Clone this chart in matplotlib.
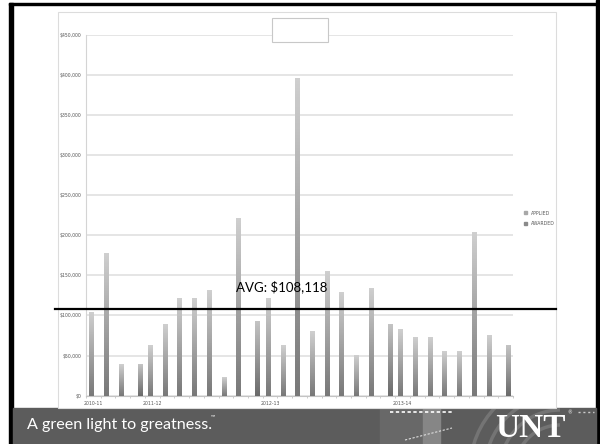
import numpy as np
import matplotlib.pyplot as plt
from matplotlib.patches import Rectangle, Patch, Arc
from matplotlib.lines import Line2D
from matplotlib.colors import LinearSegmentedColormap
from matplotlib.ticker import FuncFormatter

nan = np.nan

# one category per proposal, year label on the first one of each year
categories = ['2010-11', '', '', '', '2011-12', '', '', '', '', '', '', '',
              '2012-13', '', '', '', '', '', '', '', '', '2013-14',
              '', '', '', '', '', '', '']
applied = [104000, 177500, 39500, nan, 63500, 89500, 122000, 122000, 131500,
           23500, 221000, nan, 122000, 63000, 396000, 81000, 155500, 129500,
           50000, 133500, nan, 83000, 73000, 73000, 55500, 55500, 204000,
           75000, nan]
awarded = [nan, nan, nan, 39500, nan, nan, nan, nan, nan, nan, nan, 93000,
           nan, nan, nan, nan, nan, nan, nan, nan, 89500, nan, nan, nan, nan,
           nan, nan, nan, 63000]
series_names = ['APPLIED', 'AWARDED']
avg_value = 108118

W, H = 600, 444
fig = plt.figure(figsize=(6, 4.44), dpi=100)


def fx(px):
    return px / W


def fy(py):
    return 1 - py / H


# slide frame and footer banner
fig.patches.append(Rectangle((fx(9), 0), fx(3.5), fy(3), color='black', transform=fig.transFigure, zorder=0))
fig.patches.append(Rectangle((fx(9), fy(5.5)), fx(591), 2.5 / H, color='black', transform=fig.transFigure, zorder=0))
fig.patches.append(Rectangle((fx(596), 0), fx(4), 1, color='black', transform=fig.transFigure, zorder=0))
banner = Rectangle((fx(12.5), 0), fx(583.5), fy(408), color='#5c5c5c', transform=fig.transFigure, zorder=0)
fig.patches.append(banner)
fig.patches.append(Rectangle((fx(380), 0), fx(43), fy(408), color='#686868', transform=fig.transFigure, zorder=1))
fig.patches.append(Rectangle((fx(423), 0), fx(17), fy(408), color='#868686', transform=fig.transFigure, zorder=1))
for r in [45, 60, 75, 90]:
    arc = Arc((fx(560), fy(470)), 2 * r / W, 2 * r / H, theta1=90, theta2=180,
              color='#747474', lw=2.5, transform=fig.transFigure, zorder=1)
    fig.patches.append(arc)
    arc.set_clip_path(banner)
fig.lines.append(Line2D([fx(390), fx(452)], [fy(411.5), fy(411.5)], color='white', lw=1.2,
                        ls=(0, (2, 1.5)), transform=fig.transFigure, zorder=2))
fig.lines.append(Line2D([fx(405), fx(452)], [fy(440), fy(428)], color='#dddddd', lw=0.8,
                        ls=(0, (2, 1.5)), transform=fig.transFigure, zorder=2))
fig.lines.append(Line2D([fx(578), fx(594)], [fy(412), fy(412)], color='#cccccc', lw=1,
                        ls=(0, (1.5, 2)), transform=fig.transFigure, zorder=2))

# chart area and empty title box
fig.patches.append(Rectangle((fx(58), fy(408)), fx(498), 396 / H, facecolor='white',
                             edgecolor='#dcdcdc', lw=0.8, transform=fig.transFigure, zorder=1))
fig.patches.append(Rectangle((fx(272), fy(42.3)), fx(55.5), 24 / H, facecolor='white',
                             edgecolor='#c8c8c8', lw=0.8, transform=fig.transFigure, zorder=5))

ax = fig.add_axes([fx(86), fy(395.7), fx(427), 361 / H], zorder=3)
ax.patch.set_alpha(0)

x = np.arange(len(categories))
bw = 0.29
b1 = ax.bar(x - bw / 2, applied, bw, color='#a8a8a8', zorder=3, label=series_names[0])
b2 = ax.bar(x + bw / 2, awarded, bw, color='#999999', zorder=3, label=series_names[1])

cm1 = LinearSegmentedColormap.from_list('g1', ['#787878', '#cfcfcf'])
cm2 = LinearSegmentedColormap.from_list('g2', ['#6a6a6a', '#c4c4c4'])
grad = np.linspace(0, 1, 100).reshape(-1, 1)
for bars, cm in [(b1, cm1), (b2, cm2)]:
    for p in bars:
        h = p.get_height()
        if np.isnan(h):
            continue
        ax.imshow(grad, extent=(p.get_x(), p.get_x() + p.get_width(), 0, h), origin='lower',
                  aspect='auto', cmap=cm, zorder=4)

ax.set_xlim(-0.5, len(categories) - 0.5)
ax.set_ylim(0, 450000)
ax.set_yticks(np.arange(0, 450001, 50000))
ax.yaxis.set_major_formatter(FuncFormatter(lambda v, p: '${:,.0f}'.format(v)))
ax.set_xticks(x)
ax.set_xticklabels(categories)
ax.set_xticks(np.arange(-0.5, len(categories)), minor=True)
ax.grid(axis='y', color='#dedede', lw=1.1, zorder=0)
ax.set_axisbelow(True)
for s in ['top', 'right']:
    ax.spines[s].set_visible(False)
ax.spines['left'].set_color('#d4d4d4')
ax.spines['bottom'].set_color('#c4c4c4')
ax.tick_params(axis='y', length=0, pad=3.6, labelsize=3.3, labelcolor='#555555')
ax.tick_params(axis='x', which='major', length=0, pad=3.6, labelsize=3.3, labelcolor='#555555')
ax.tick_params(axis='x', which='minor', length=1.6, color='#c4c4c4')

handles = [Patch(color='#a8a8a8'), Patch(color='#8a8a8a')]
ax.legend(handles, series_names, loc='center left', bbox_to_anchor=(fx(522), fy(218.5)),
          bbox_transform=fig.transFigure, frameon=False, fontsize=3.3, handlelength=0.6,
          handleheight=0.6, handletextpad=0.8, labelspacing=1.3, borderpad=0, labelcolor='#555555')

# average line drawn across the chart
ax.axhline(avg_value, xmin=(55 - 86) / 427, xmax=(556 - 86) / 427, color='black', lw=1.6,
           clip_on=False, zorder=6)
ax.text((236 - 86) / 427, (395.7 - 290.7) / 361, 'AVG: ${:,}'.format(avg_value), transform=ax.transAxes,
        va='baseline', ha='left', fontsize=9.5, family=['Lato', 'DejaVu Sans'], color='black', zorder=7)

fig.text(fx(27), fy(428.5), 'A green light to greatness.', va='baseline', ha='left', color='white',
         fontsize=11.6, family=['Lato', 'DejaVu Sans'], zorder=5)
fig.text(fx(211), fy(418), '\u2122', va='baseline', ha='left', color='white',
         fontsize=4, family=['Lato', 'DejaVu Sans'], zorder=5)
fig.text(fx(495), fy(437), 'UNT', va='baseline', ha='left', color='white', fontsize=24,
         family=['Liberation Serif', 'DejaVu Serif'], fontweight='bold', zorder=5)
fig.text(fx(567), fy(414), '\u00ae', va='baseline', ha='left', color='white', fontsize=3.5, zorder=5)

fig.savefig('out.png', dpi=100)
